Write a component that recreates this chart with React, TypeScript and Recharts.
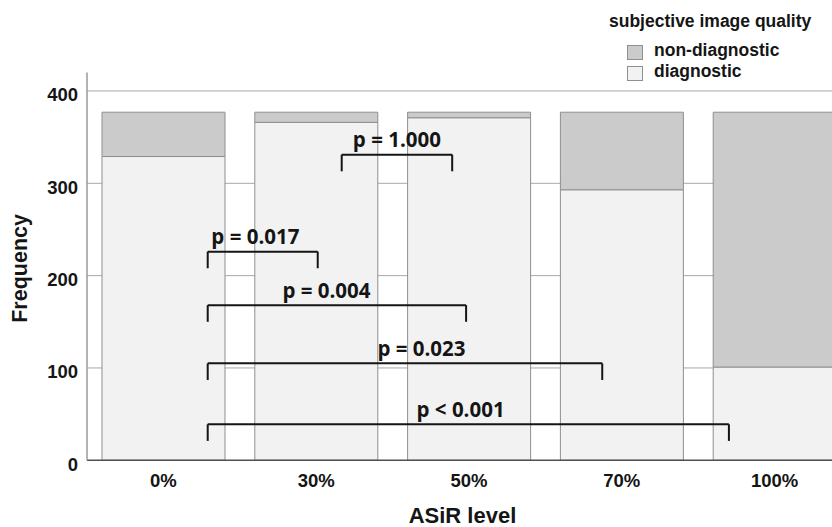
import {
  BarChart, Bar, XAxis, YAxis, CartesianGrid, Legend, ReferenceLine, ReferenceDot, Label,
} from 'recharts';

const levels = ['0%', '30%', '50%', '70%', '100%'];
const diagnostic = [329, 366, 371, 293, 101];
const nonDiagnostic = [48, 11, 6, 84, 276];
const yTicks = [0, 100, 200, 300, 400];

// significance brackets, x in category units (0 = "0%", 1 = "30%" ...)
const pLabels = ['p = 1.000', 'p = 0.017', 'p = 0.004', 'p = 0.023', 'p < 0.001'];
const pFrom = [1.167, 0.29, 0.29, 0.29, 0.29];
const pTo = [1.89, 1.01, 1.981, 2.872, 3.701];
const pLevel = [331, 226, 168, 105, 39];
const pTextX = [1.528, 0.602, 1.067, 1.689, 1.945];
const pDrop = 18;

const data = levels.map((level, i) => ({
  level,
  pos: i,
  diagnostic: diagnostic[i],
  nonDiagnostic: nonDiagnostic[i],
}));

const sans = '"Liberation Sans", Arial, sans-serif';
const ink = '#151515';
const edge = '#8f8f8f';

const YTick = ({ x, y, payload }: any) => (
  <text x={x} y={y + 10.5} textAnchor="end" fontFamily={sans} fontSize={18.5} fontWeight={700} fill={ink}>
    {payload.value}
  </text>
);

const XTick = ({ x, y, payload }: any) => (
  <text x={x} y={y + 18.4} textAnchor="middle" fontFamily={sans} fontSize={18.5} fontWeight={700} fill={ink}>
    {payload.value}
  </text>
);

const LegendBox = ({ payload }: any) => {
  const items = [...(payload || [])].reverse();
  return (
    <svg width={227} height={90} style={{ display: 'block' }}>
      <text x={4} y={27} fontFamily={sans} fontSize={17.5} fontWeight={700} fill={ink}>subjective image quality</text>
      {items.map((it: any, i: number) => (
        <g key={it.value}>
          <rect x={22.5} y={45.5 + i * 21} width={15} height={14} fill={it.color} stroke={edge} />
          <text x={49} y={56 + i * 21} fontFamily={sans} fontSize={17.5} fontWeight={700} fill={ink}>{it.value}</text>
        </g>
      ))}
    </svg>
  );
};

const pLabel = (text: string) => (props: any) => {
  const { viewBox } = props;
  const cx = viewBox.x + viewBox.width / 2;
  const cy = viewBox.y + viewBox.height / 2;
  return (
    <text x={cx} y={cy - 7.3} textAnchor="middle" fontFamily='"Open Sans", sans-serif' fontSize={20.5} fontWeight={700} fill={ink}>
      {text}
    </text>
  );
};

export default function App() {
  const brackets = pLabels.flatMap((text, i) => {
    const line = { stroke: ink, strokeWidth: 2, xAxisId: 'num', ifOverflow: 'visible' as const };
    return [
      <ReferenceLine key={`h${i}`} {...line} segment={[{ x: pFrom[i], y: pLevel[i] }, { x: pTo[i], y: pLevel[i] }]} />,
      <ReferenceLine key={`l${i}`} {...line} segment={[{ x: pFrom[i], y: pLevel[i] }, { x: pFrom[i], y: pLevel[i] - pDrop }]} />,
      <ReferenceLine key={`r${i}`} {...line} segment={[{ x: pTo[i], y: pLevel[i] }, { x: pTo[i], y: pLevel[i] - pDrop }]} />,
      <ReferenceDot key={`t${i}`} xAxisId="num" x={pTextX[i]} y={pLevel[i]} r={1} fill="none" stroke="none" ifOverflow="visible" label={{ content: pLabel(text) }} />,
    ];
  });

  return (
    <div style={{ position: 'absolute', left: 0, top: 0, width: 832, height: 527, overflow: 'hidden', background: '#fff' }}>
      <BarChart
        width={832}
        height={527}
        data={data}
        accessibilityLayer={false}
        margin={{ top: 72.5, right: -19, bottom: 36.7, left: 0 }}
      >
        <CartesianGrid vertical={false} stroke="#a8a8a8" horizontalValues={[100, 200, 300, 400]} />
        <XAxis dataKey="level" height={30} tickLine={false} axisLine={{ stroke: '#505050', strokeWidth: 1.5 }} tick={<XTick />} interval={0}>
          <Label content={({ viewBox }: any) => (
            <text x={viewBox.x + viewBox.width / 2 - 6.5} y={522.5} textAnchor="middle" fontFamily={sans} fontSize={22} fontWeight={700} fill={ink}>ASiR level</text>
          )} />
        </XAxis>
        <XAxis xAxisId="num" dataKey="pos" type="number" scale="linear" domain={[-0.5, 4.5]} allowDataOverflow hide />
        <YAxis width={87} domain={[0, 420]} ticks={yTicks} tickLine={false} tickMargin={3} axisLine={{ stroke: '#9a9a9a', strokeWidth: 1.5 }} tick={<YTick />}>
          <Label content={({ viewBox }: any) => {
            const cy = viewBox.y + viewBox.height / 2 + 2;
            return <text x={27} y={cy} transform={`rotate(-90 27 ${cy})`} textAnchor="middle" fontFamily={sans} fontSize={21.5} fontWeight={700} fill={ink}>Frequency</text>;
          }} />
        </YAxis>
        <Legend layout="horizontal" align="center" verticalAlign="middle" content={<LegendBox />}
          wrapperStyle={{ position: 'absolute', left: 605, top: 0, width: 227, height: 90 }} />
        <Bar dataKey="diagnostic" name="diagnostic" stackId="q" fill="#f2f2f2" stroke={edge} barSize={123} isAnimationActive={false} />
        <Bar dataKey="nonDiagnostic" name="non-diagnostic" stackId="q" fill="#cbcbcb" stroke={edge} barSize={123} isAnimationActive={false} />
        {brackets}
      </BarChart>
    </div>
  );
}
